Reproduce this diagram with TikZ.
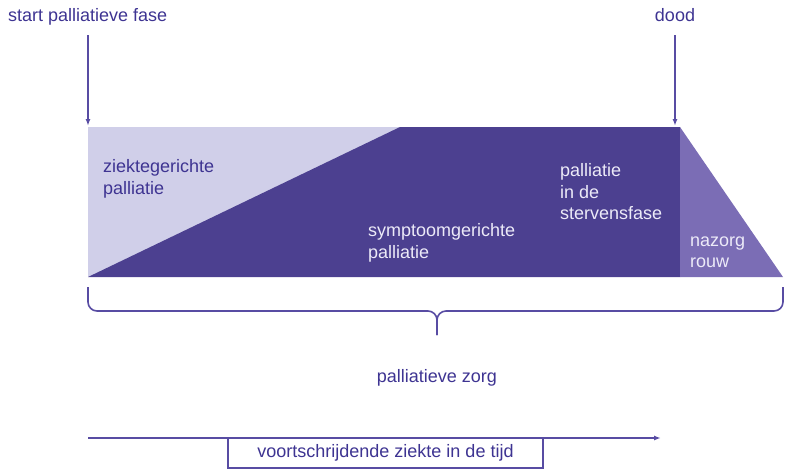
\documentclass[tikz,border=0pt]{standalone}
\usepackage{fontspec}
\setmainfont{Liberation Sans}
\usetikzlibrary{arrows.meta}
\definecolor{darkp}{RGB}{76,64,144}
\definecolor{lightp}{RGB}{208,207,233}
\definecolor{midp}{RGB}{123,109,181}
\definecolor{linep}{RGB}{88,76,163}
\definecolor{txtp}{RGB}{62,52,146}
\definecolor{txtw}{RGB}{236,234,248}
\tikzset{
  lbl/.style={inner sep=0pt, align=left, font=\fontsize{18}{21.5}\selectfont},
  darklbl/.style={lbl, text=txtp},
  whitelbl/.style={lbl, text=txtw},
  conn/.style={draw=linep, line width=1.6pt, -{Latex[length=7pt,width=5pt]}},
  bracep/.style={draw=linep, line width=1.6pt, rounded corners=9pt},
  timebox/.style={draw=linep, line width=1.5pt, fill=white, minimum width=315pt, minimum height=30pt, inner sep=0pt, text=txtp, font=\fontsize{18}{20}\selectfont}
}
\begin{document}
\begin{tikzpicture}[x=1pt,y=-1pt]
\useasboundingbox (0,0) rectangle (786,475);
% shapes
\fill[lightp] (88,127) rectangle (400,277);
\fill[darkp] (88,277) -- (400,127) -- (680,127) -- (680,277) -- cycle;
\fill[midp] (680,127) -- (783,277) -- (680,277) -- cycle;
% labels
\node[darklbl, anchor=west] (zg) at (103,179) {ziektegerichte\\palliatie};
\node[whitelbl, anchor=west] (sg) at (368,243) {symptoomgerichte\\palliatie};
\node[whitelbl, anchor=west] (sf) at (560,192) {palliatie\\in de\\stervensfase};
\node[whitelbl, anchor=west] (nz) at (690,252) {nazorg\\rouw};
% top markers
\node[darklbl, anchor=west] (start) at (8,17) {start palliatieve fase};
\node[darklbl] (dood) at (675,15) {dood};
\coordinate (startbeg) at (88,35);
\coordinate (startend) at (88,126);
\coordinate (doodbeg) at (675,35);
\coordinate (doodend) at (675,126);
\path[conn] (startbeg) -- (startend);
\path[conn] (doodbeg) -- (doodend);
% brace
\coordinate (bl) at (88,287);
\coordinate (br) at (783,287);
\coordinate (bt) at (437,335);
\path[bracep] (bl) -- (88,311) -- (437,311) -- (bt);
\path[bracep] (br) -- (783,311) -- (437,311) -- (bt);
\node[darklbl] (pz) at (437,378) {palliatieve zorg};
% time axis
\coordinate (ta) at (88,438);
\coordinate (tb) at (661,438);
\path[conn] (ta) -- (tb);
\node[timebox] (vz) at (385.5,453) {voortschrijdende ziekte in de tijd};
\end{tikzpicture}
\end{document}
